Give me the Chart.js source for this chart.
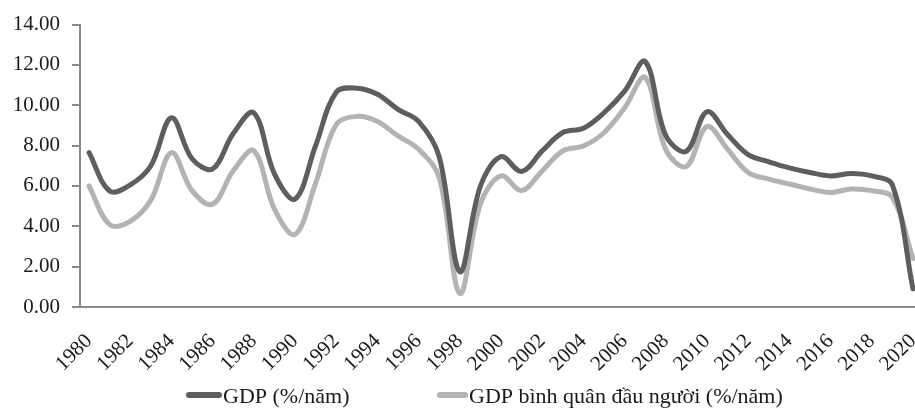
<!DOCTYPE html>
<html><head><meta charset="utf-8">
<script src="https://cdn.jsdelivr.net/npm/chart.js@4.4.0/dist/chart.umd.min.js"></script>
<style>html,body{margin:0;padding:0;background:#fff;}#wrap{width:915px;height:408px;position:relative;}</style>
</head><body><div id="wrap"><canvas id="c" width="915" height="408"></canvas></div>
<script>
const years = [1980,1981,1982,1983,1984,1985,1986,1987,1988,1989,1990,1991,1992,1993,1994,1995,1996,1997,1998,1999,2000,2001,2002,2003,2004,2005,2006,2007,2008,2009,2010,2011,2012,2013,2014,2015,2016,2017,2018,2019,2020];
const gdp = [7.65,5.75,6.05,7.0,9.38,7.35,6.85,8.6,9.63,6.6,5.35,8.0,10.65,10.85,10.55,9.8,9.2,7.45,1.75,6.0,7.45,6.72,7.74,8.65,8.86,9.63,10.7,12.17,8.5,7.72,9.68,8.55,7.55,7.2,6.9,6.67,6.5,6.62,6.5,6.05,0.9];
const gdpPerCapita = [6.0,4.08,4.25,5.3,7.65,5.77,5.1,6.75,7.74,4.85,3.6,6.14,9.05,9.45,9.2,8.48,7.82,6.42,0.67,5.11,6.5,5.77,6.75,7.74,7.98,8.64,9.87,11.38,7.8,6.97,8.95,7.82,6.67,6.34,6.1,5.85,5.68,5.85,5.77,5.44,2.4];
const xTickYears = [1980,1982,1984,1986,1988,1990,1992,1994,1996,1998,2000,2002,2004,2006,2008,2010,2012,2014,2016,2018,2020];
const yTicks = [0,2,4,6,8,10,12,14];
const seriesLabels = ['GDP (%/năm)', 'GDP bình quân đầu người (%/năm)'];

const FONT = '"Liberation Serif", "Times New Roman", serif';

const legendPlugin = {
  id: 'customLegend',
  afterDraw(chart) {
    const ctx = chart.ctx;
    ctx.save();
    ctx.font = '22px ' + FONT;
    ctx.textBaseline = 'alphabetic';
    ctx.textAlign = 'left';
    const starts = [186, 437];
    const lens = [36, 31];
    chart.data.datasets.forEach((ds, i) => {
      const x0 = starts[i], len = lens[i];
      ctx.strokeStyle = ds.borderColor;
      ctx.lineWidth = 6;
      ctx.lineCap = 'round';
      ctx.beginPath();
      ctx.moveTo(x0 + 3, 395);
      ctx.lineTo(x0 + len - 3, 395);
      ctx.stroke();
      ctx.fillStyle = '#1a1a1a';
      ctx.fillText(ds.label, x0 + len + 1, 403);
    });
    ctx.restore();
  }
};

new Chart(document.getElementById('c'), {
  type: 'line',
  data: {
    datasets: [
      { label: seriesLabels[0], data: years.map((y, i) => ({x: y, y: gdp[i]})),
        borderColor: '#5e5e5e', borderWidth: 5, pointRadius: 0, tension: 0.36,
        borderCapStyle: 'round', borderJoinStyle: 'round', fill: false },
      { label: seriesLabels[1], data: years.map((y, i) => ({x: y, y: gdpPerCapita[i]})),
        borderColor: '#b3b3b3', borderWidth: 5, pointRadius: 0, tension: 0.36,
        borderCapStyle: 'round', borderJoinStyle: 'round', fill: false }
    ]
  },
  options: {
    responsive: false,
    animation: false,
    devicePixelRatio: 1,
    layout: { padding: { top: 23, right: 0, bottom: 35, left: 0 } },
    plugins: { legend: { display: false }, tooltip: { enabled: false } },
    scales: {
      x: {
        type: 'linear',
        min: 1979.56, max: 2020.1,
        afterBuildTicks(scale) { scale.ticks = xTickYears.map(v => ({ value: v })); },
        afterFit(scale) { scale.height = 66; scale.paddingLeft = 0; scale.paddingRight = 0; },
        grid: { display: false },
        border: { display: true, color: '#8a8a8a', width: 2 },
        ticks: {
          autoSkip: false, minRotation: 45, maxRotation: 45, padding: 14,
          color: '#1a1a1a', font: { family: FONT, size: 21 },
          callback: v => String(v)
        }
      },
      y: {
        min: 0, max: 14,
        afterBuildTicks(scale) { scale.ticks = yTicks.map(v => ({ value: v })); },
        afterFit(scale) { scale.width = 80; },
        grid: { display: true, drawOnChartArea: false, drawTicks: true, tickLength: 8, color: '#8a8a8a', lineWidth: 2 },
        border: { display: true, color: '#8a8a8a', width: 2 },
        ticks: {
          padding: 12, color: '#1a1a1a', font: { family: FONT, size: 21 },
          callback: v => Number(v).toFixed(2)
        }
      }
    }
  },
  plugins: [legendPlugin]
});
</script>
</body></html>
